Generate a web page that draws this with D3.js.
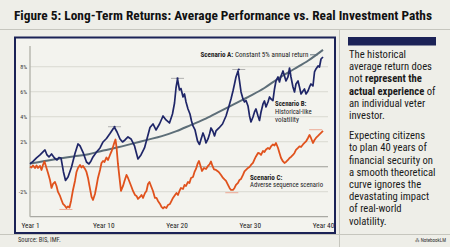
<!DOCTYPE html>
<html><head><meta charset="utf-8">
<script src="https://cdn.jsdelivr.net/npm/d3@7"></script>
<style>
html,body{margin:0;padding:0;background:#eeeee8;}
svg{display:block;}
</style></head><body>
<svg id="c" width="450" height="247"></svg>
<script>
const titleText = "Figure 5: Long-Term Returns: Average Performance vs. Real Investment Paths";
const yTickValues = [-2, 2, 4, 6, 8];
const gridValues = [-2, 0, 2, 4, 6, 8];
const xTickYears = [0, 10, 20, 30, 40];
const xTickLabels = ["Year 1", "Year 10", "Year 20", "Year 30", "Year 40"];

// Scenario A: constant 5% annual return (smooth path)
const scenarioA = [[0,0.25],[2,0.45],[4,0.65],[6,0.82],[8,1.0],[10,1.3],[12,1.55],[14,1.85],[16,2.15],[18,2.45],[20,2.85],[22,3.35],[24,3.85],[26,4.45],[28,5.05],[30,5.65],[32,6.3],[34,7.1],[36,7.8],[38,8.5],[40,9.35]];

// Scenario B: historical-like volatility
const scenarioB = [[0,0.22],[0.41,0.42],[0.89,0.70],[1.37,0.94],[1.84,1.22],[2.05,1.34],[2.32,0.94],[2.59,0.78],[2.94,1.02],[3.34,0.70],[3.69,0.54],[3.96,0.74],[4.23,0.70],[4.57,-0.42],[4.85,-1.10],[5.19,-0.82],[5.67,-0.02],[6.14,1.06],[6.55,1.82],[6.83,1.66],[7.30,1.06],[7.71,0.38],[8.05,0.22],[8.33,0.46],[8.60,0.78],[9.08,1.18],[9.56,1.50],[9.97,1.98],[10.44,2.26],[10.92,2.66],[11.33,3.02],[11.54,3.14],[11.88,2.78],[12.29,2.22],[12.63,1.98],[12.97,2.14],[13.38,2.38],[13.79,2.22],[14.27,1.66],[14.74,0.62],[15.15,0.94],[15.63,1.50],[16.11,2.54],[16.38,3.14],[16.79,3.42],[17.20,2.94],[17.68,3.42],[18.16,4.06],[18.57,3.74],[19.04,3.50],[19.45,4.22],[19.73,5.10],[19.93,6.30],[20.14,7.02],[20.41,6.14],[20.61,6.26],[20.89,5.58],[21.09,5.82],[21.30,5.18],[21.57,4.62],[21.84,4.22],[22.05,3.66],[22.25,3.26],[22.53,2.94],[22.87,2.06],[23.14,1.78],[23.34,2.18],[23.62,2.70],[23.82,2.38],[24.03,1.90],[24.30,2.22],[24.51,2.62],[24.71,3.10],[24.98,2.82],[25.19,2.46],[25.39,2.86],[25.80,3.10],[26.28,3.42],[26.76,4.06],[27.17,4.86],[27.44,5.42],[27.71,6.06],[27.92,6.62],[28.12,7.18],[28.40,7.66],[28.60,6.86],[28.81,5.98],[29.08,5.42],[29.28,5.18],[29.49,5.30],[29.76,4.86],[29.97,4.06],[30.17,3.58],[30.44,3.98],[30.65,4.38],[30.85,4.62],[31.13,4.06],[31.33,3.70],[31.54,4.38],[31.81,5.02],[32.01,5.26],[32.22,4.78],[32.49,5.18],[32.70,5.58],[32.90,5.42],[33.17,5.30],[33.38,6.22],[33.58,6.86],[33.86,7.18],[34.06,6.78],[34.27,7.26],[34.54,7.66],[34.74,7.26],[34.95,6.86],[35.22,7.18],[35.43,7.90],[35.63,7.18],[35.90,6.38],[36.11,5.98],[36.31,6.62],[36.59,6.86],[36.79,6.38],[37.00,5.82],[37.27,6.06],[37.47,6.22],[37.68,5.82],[37.95,6.06],[38.16,6.38],[38.36,6.62],[38.63,6.46],[38.84,7.58],[39.04,7.82],[39.32,8.06],[39.52,7.98],[39.73,8.62],[40,8.78]];

// Scenario C: adverse sequence
const scenarioC = [[0,0.02],[0.20,-0.06],[0.41,0.10],[0.68,-0.10],[0.89,0.10],[1.09,-0.10],[1.37,0.06],[1.57,-0.26],[1.77,0.14],[1.98,0.42],[2.25,-0.10],[2.46,-0.50],[2.73,-1.06],[2.94,-1.70],[3.14,-1.38],[3.41,-1.22],[3.62,-1.54],[3.82,-2.02],[4.10,-2.34],[4.30,-2.66],[4.51,-2.98],[4.78,-3.14],[4.98,-3.30],[5.19,-3.18],[5.39,-3.26],[5.60,-2.74],[5.87,-1.86],[6.14,-1.14],[6.35,-0.42],[6.55,-0.10],[6.83,0.14],[7.03,-0.06],[7.24,0.06],[7.51,-0.18],[7.71,-0.42],[7.92,-0.90],[8.12,-1.54],[8.40,-2.42],[8.60,-2.66],[8.87,-2.18],[9.08,-1.54],[9.28,-0.90],[9.56,-0.26],[9.76,0.30],[9.97,0.46],[10.17,0.38],[10.44,0.74],[10.65,0.54],[10.92,0.94],[11.13,1.22],[11.33,1.58],[11.54,1.98],[11.67,2.18],[11.81,1.58],[12.01,0.22],[12.22,-0.90],[12.42,-1.94],[12.70,-1.54],[12.90,-1.14],[13.17,-0.66],[13.38,-0.90],[13.65,-1.30],[13.86,-1.62],[14.06,-1.94],[14.33,-2.26],[14.54,-2.34],[14.74,-2.58],[15.02,-2.42],[15.22,-2.26],[15.43,-2.50],[15.70,-2.10],[15.90,-1.94],[16.11,-1.38],[16.31,-1.22],[16.52,-1.54],[16.79,-1.94],[17.06,-2.50],[17.27,-2.50],[17.47,-2.74],[17.75,-2.98],[17.95,-3.22],[18.16,-3.34],[18.36,-3.22],[18.63,-3.30],[18.84,-3.06],[19.11,-2.98],[19.32,-2.74],[19.52,-2.50],[19.80,-2.26],[20.00,-2.10],[20.20,-2.26],[20.41,-1.94],[20.61,-1.70],[20.89,-1.78],[21.09,-1.46],[21.30,-1.54],[21.57,-1.22],[21.77,-1.30],[21.98,-0.90],[22.25,-0.82],[22.46,-0.42],[22.66,-0.18],[22.87,0.22],[23.07,0.46],[23.28,0.06],[23.48,-0.34],[23.75,-0.10],[24.03,-0.18],[24.30,0.06],[24.51,0.18],[24.71,0.42],[24.91,0.06],[25.12,-0.22],[25.39,-0.26],[25.67,-0.38],[25.87,-0.50],[26.08,-0.66],[26.35,-0.90],[26.55,-1.02],[26.76,-1.14],[27.03,-1.46],[27.24,-1.70],[27.44,-1.86],[27.71,-1.86],[27.92,-1.70],[28.12,-1.46],[28.40,-1.30],[28.60,-1.06],[28.81,-0.98],[29.08,-0.66],[29.28,-0.38],[29.49,-0.26],[29.76,-0.10],[29.97,-0.02],[30.17,0.14],[30.44,0.30],[30.65,0.58],[30.85,0.82],[31.13,1.10],[31.33,1.06],[31.54,0.94],[31.81,1.26],[32.01,1.18],[32.22,1.38],[32.49,1.50],[32.70,1.42],[32.90,1.62],[33.17,1.78],[33.38,1.70],[33.58,1.90],[33.86,1.50],[34.06,1.10],[34.27,0.70],[34.54,0.42],[34.74,0.30],[34.95,0.38],[35.22,0.54],[35.43,0.70],[35.63,0.78],[35.90,0.94],[36.11,1.10],[36.31,1.34],[36.59,1.50],[36.79,1.62],[37.00,1.58],[37.27,1.78],[37.47,1.90],[37.68,2.02],[37.95,2.30],[38.16,2.54],[38.36,2.30],[38.63,1.90],[38.84,2.14],[39.04,2.30],[39.32,2.46],[39.52,2.58],[39.73,2.70],[40,2.86]];

// highlighted peaks / troughs
const peakMarksB = [[11.54,3.2],[20.14,7.07],[28.5,7.78]];
const troughMarksC = [[4.9,-3.42],[27.55,-2.08],[39.0,2.96]];

const labelA = ["Scenario A:", " Constant 5% annual return"];
const labelB = ["Scenario B:", "Historical-like", "volatility"];
const labelC = ["Scenario C:", "Adverse sequence scenario"];
const sideText = [
  [["The historical",0]],
  [["average return does",0]],
  [["not ",0],["represent the",1]],
  [["actual experience",1],[" of",0]],
  [["an individual veter",0]],
  [["investor.",0]],
  null,
  [["Expecting citizens",0]],
  [["to plan 40 years of",0]],
  [["financial security on",0]],
  [["a smooth theoretical",0]],
  [["curve ignores the",0]],
  [["devastating impact",0]],
  [["of real-world",0]],
  [["volatility.",0]]
];
const sourceText = "Source: BIS, IMF.";
const brandText = "⁂ NotebookLM";

const NAVY = "#1b2256", BLUE = "#1f2668", ORANGE = "#e0521d", GREY = "#5d6e78";
const FONT = "'Liberation Sans Narrow','Roboto Condensed','DejaVu Sans Condensed','Liberation Sans',sans-serif";

const svg = d3.select("#c").style("font-family", FONT);
svg.append("rect").attr("width",450).attr("height",247).attr("fill","#eeeee8");

// horizontally stretch a text so that it spans the wanted width
function scaleX(sel, x0, k){
  sel.attr("transform", `translate(${x0},0) scale(${k},1) translate(${-x0},0)`);
}
function fitWidth(sel, x0, target){
  const k = target / sel.node().getComputedTextLength();
  scaleX(sel, x0, k);
  return k;
}

// title
svg.append("text").attr("x",14).attr("y",19.5).attr("font-size",12.5).attr("font-weight","bold")
  .attr("fill","#111").attr("textLength",418).attr("lengthAdjust","spacingAndGlyphs").text(titleText);
svg.append("line").attr("x1",0).attr("x2",450).attr("y1",29.5).attr("y2",29.5).attr("stroke","#c6c6be").attr("stroke-width",1);
svg.append("line").attr("x1",339.5).attr("x2",339.5).attr("y1",29.5).attr("y2",247).attr("stroke","#c6c6be").attr("stroke-width",1);
svg.append("line").attr("x1",0).attr("x2",450).attr("y1",234.5).attr("y2",234.5).attr("stroke","#c6c6be").attr("stroke-width",1);

// chart panel
svg.append("rect").attr("x",15).attr("y",37.5).attr("width",320).attr("height",195.5)
  .attr("fill","#f3f3ee").attr("stroke",NAVY).attr("stroke-width",2);

const x = d3.scaleLinear().domain([0,40]).range([30,323]);
const y = d3.scaleLinear().domain([-4,9.66]).range([216.7,46]);
const plotRight = 328;

const g = svg.append("g");
g.selectAll("line.grid").data(gridValues).join("line").attr("class","grid")
  .attr("x1",30).attr("x2",plotRight).attr("y1",d=>y(d)).attr("y2",d=>y(d))
  .attr("stroke",d=>d===0?"#9c9c96":"#d9d9d1").attr("stroke-width",d=>d===0?1.1:1);
g.append("line").attr("x1",30).attr("x2",plotRight).attr("y1",y(-4)).attr("y2",y(-4)).attr("stroke","#a9a9a3").attr("stroke-width",1.2);
g.append("line").attr("x1",30).attr("x2",30).attr("y1",y(9.66)).attr("y2",y(-4)).attr("stroke","#b4b4ac").attr("stroke-width",1.4);

// axes
const yAxis = g.append("g").attr("transform","translate(30,0)")
  .call(d3.axisLeft(y).tickValues(yTickValues).tickFormat(d=>d+"%").tickSize(0).tickPadding(3));
yAxis.select(".domain").remove();
yAxis.selectAll("text").attr("font-size",6).attr("fill","#333").style("font-family",FONT);

const xAxis = g.append("g").attr("transform",`translate(0,${y(-4)})`)
  .call(d3.axisBottom(x).tickValues(xTickYears).tickFormat((d,i)=>xTickLabels[i]).tickSize(0).tickPadding(6));
xAxis.select(".domain").remove();
xAxis.selectAll("text").attr("font-size",7.3).attr("fill","#222").style("font-family",FONT);

// lines
const line = d3.line().x(d=>x(d[0])).y(d=>y(d[1]));
g.append("path").datum(scenarioA).attr("fill","none").attr("stroke",GREY).attr("stroke-width",2)
  .attr("d", line.curve(d3.curveMonotoneX));
line.curve(d3.curveLinear);
g.append("path").datum(scenarioC).attr("fill","none").attr("stroke",ORANGE).attr("stroke-width",1.8)
  .attr("stroke-linejoin","round").attr("d", line);
g.append("path").datum(scenarioB).attr("fill","none").attr("stroke",BLUE).attr("stroke-width",1.7)
  .attr("stroke-linejoin","round").attr("d", line);

// peak markers
peakMarksB.forEach(d=>{
  g.append("line").attr("x1",x(d[0])-6.5).attr("x2",x(d[0])+6.5).attr("y1",y(d[1])).attr("y2",y(d[1]))
    .attr("stroke","#a8a8a8").attr("stroke-width",0.9);
  g.append("circle").attr("cx",x(d[0])).attr("cy",y(d[1])).attr("r",1.1).attr("fill",BLUE);
});
troughMarksC.forEach(d=>{
  g.append("line").attr("x1",x(d[0])-6.5).attr("x2",x(d[0])+6.5).attr("y1",y(d[1])).attr("y2",y(d[1]))
    .attr("stroke","#eba08a").attr("stroke-width",0.9);
});

// labels
const lbl = g.append("text").attr("x",200.5).attr("y",57.5).attr("font-size",7).attr("fill","#222");
lbl.append("tspan").attr("font-weight","bold").text(labelA[0]);
lbl.append("tspan").text(labelA[1]);
fitWidth(lbl, 200.5, 108);
g.append("line").attr("x1",310).attr("x2",318).attr("y1",54.8).attr("y2",54.8).attr("stroke",GREY).attr("stroke-width",0.9);

const bWidths = [31.5, 36.7, 23];
labelB.forEach((t,i)=>{
  const s = g.append("text").attr("x",275).attr("y",106.5+i*7.7).attr("font-size",6.8).attr("fill","#222")
    .attr("font-weight",i===0?"bold":"normal").text(t);
  if(i<2) fitWidth(s, 275, bWidths[i]); else scaleX(s, 275, 1.06);
});
const cWidths = [32.5, 73];
labelC.forEach((t,i)=>{
  const s = g.append("text").attr("x",250).attr("y",179.8+i*7.6).attr("font-size",6.7).attr("fill","#222")
    .attr("font-weight",i===0?"bold":"normal").text(t);
  fitWidth(s, 250, cWidths[i]);
});

// side panel
svg.append("rect").attr("x",348).attr("y",37).attr("width",88).attr("height",8.5).attr("fill",NAVY);
let yy = 58;
const sideSel = [];
sideText.forEach(l=>{
  if(l===null){ yy += 8; return; }
  const t = svg.append("text").attr("x",349).attr("y",yy).attr("font-size",10.9).attr("fill","#1a1a1a");
  l.forEach(s=>t.append("tspan").attr("font-weight",s[1]?"bold":"normal").text(s[0]));
  t.datum(l.map(s=>s[0]).join(""));
  sideSel.push(t);
  yy += 12.2;
});
// uniform horizontal stretch, measured on "financial security on" (84px wide in the reference)
const refLine = sideSel.find(s=>s.datum()==="financial security on");
const kS = 84 / refLine.node().getComputedTextLength();
sideSel.forEach(s=>scaleX(s, 349, kS));

// footer
svg.append("text").attr("x",18).attr("y",241.5).attr("font-size",6.5).attr("fill","#333").text(sourceText);
svg.append("text").attr("x",446).attr("y",242).attr("text-anchor","end").attr("font-size",5).attr("fill","#333").text(brandText);
</script>
</body></html>
